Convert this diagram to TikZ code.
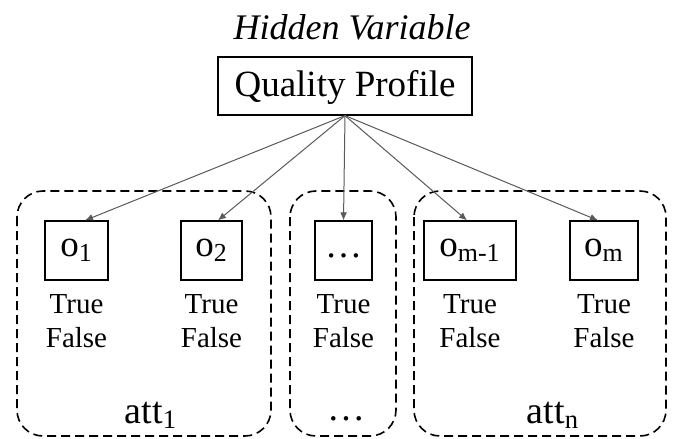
\documentclass[tikz,border=0pt]{standalone}
\usepackage{fontspec}
\setmainfont{Liberation Serif}
\usetikzlibrary{arrows.meta,positioning}

\begin{document}
\begin{tikzpicture}[x=0.5pt,y=-0.5pt,>={Latex[length=4pt,width=3.4pt]},
  obs/.style={draw,line width=0.6pt,minimum height=29.5pt,inner sep=0pt,font=\fontsize{18.5}{20}\selectfont},
  vals/.style={align=center,font=\fontsize{14.5}{17}\selectfont,inner sep=0pt},
  attlab/.style={font=\fontsize{19}{21}\selectfont,anchor=base},
  group/.style={draw,line width=0.8pt,dash pattern=on 4.5pt off 2.5pt,rounded corners=13pt},
  link/.style={->,draw=black!65,line width=0.5pt}]
  \useasboundingbox (0,0) rectangle (678,438);
  % hidden variable on top
  \node[font=\fontsize{18}{20}\selectfont\itshape,anchor=base] (hidden) at (352,40) {Hidden Variable};
  \node[draw,line width=0.6pt,minimum width=127pt,minimum height=29pt,
    text height=12.5pt,text depth=2pt,font=\fontsize{18.5}{20}\selectfont] (qp) at (345,86) {Quality Profile};
  % observed outcomes
  \node[obs,minimum width=31.5pt] (o1) at (76.5,250.5) {o\textsubscript{1}};
  \node[obs,minimum width=30.5pt] (o2) at (211.5,250.5) {o\textsubscript{2}};
  \node[obs,minimum width=28.5pt,text height=7pt] (od) at (343.5,250.5) {…};
  \node[obs,minimum width=46pt] (omm) at (470,250.5) {o\textsubscript{m-1}};
  \node[obs,minimum width=34pt] (om) at (604,250.5) {o\textsubscript{m}};
  \foreach \o in {o1,o2,od,omm,om}
    \node[vals,below=7pt of \o] (tf\o) {True\\False};
  % attribute groups
  \draw[group] (17,191) rectangle (271,436);
  \draw[group] (290,191) rectangle (396,436);
  \draw[group] (414,191) rectangle (666,436);
  \node[attlab] (att1) at (151,423) {att\textsubscript{1}};
  \node[attlab] (attd) at (346,420) {…};
  \node[attlab] (attn) at (553,423) {att\textsubscript{n}};
  % links
  \draw[link] (qp.south) -- ([xshift=4.25pt]o1.north);
  \draw[link] (qp.south) -- ([xshift=3.25pt]o2.north);
  \draw[link] (qp.south) -- (od.north);
  \draw[link] (qp.south) -- ([xshift=-1.5pt]omm.north);
  \draw[link] (qp.south) -- ([xshift=-3pt]om.north);
\end{tikzpicture}
\end{document}
